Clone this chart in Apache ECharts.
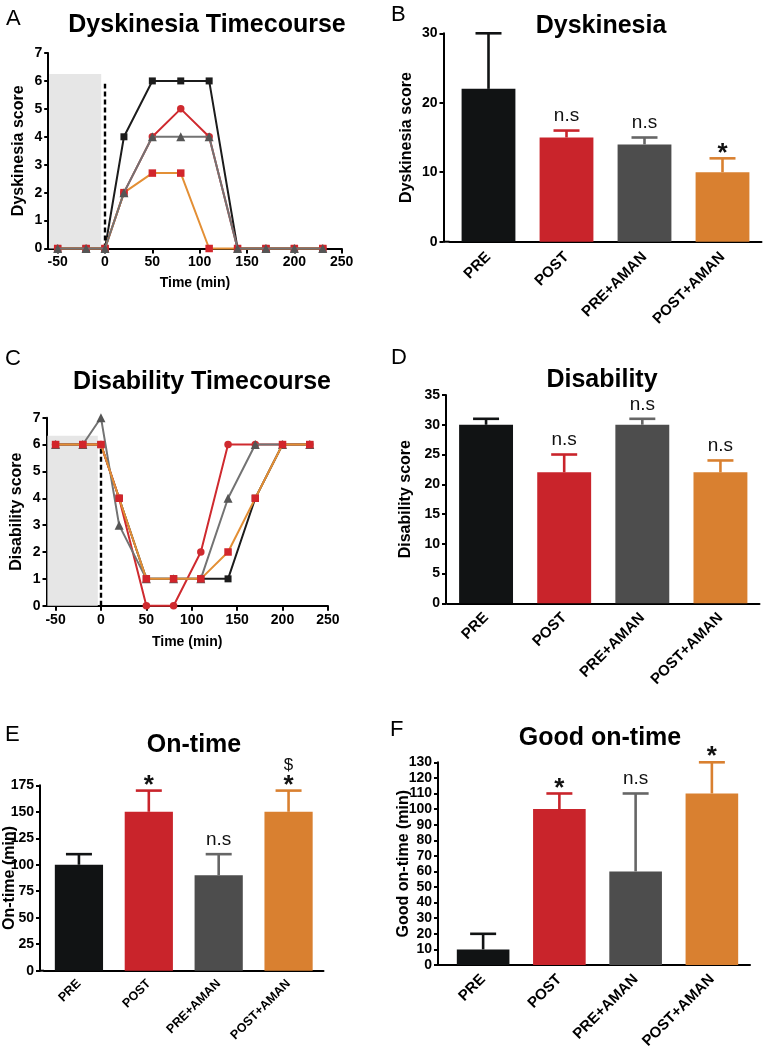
<!DOCTYPE html>
<html><head><meta charset="utf-8">
<script src="https://cdn.jsdelivr.net/npm/echarts@6/dist/echarts.min.js"></script>
<style>html,body{margin:0;padding:0;background:#fff}#c{width:765px;height:1052px}</style>
</head><body><div id="c"></div>
<script>
// ---------- DATA ----------
const timePoints = [-50, -20, 0, 20, 50, 80, 110, 140, 170, 200, 230];
const timeTicks = [-50, 0, 50, 100, 150, 200, 250];

const dyskBlack  = [0, 0, 0, 4, 6, 6, 6, 0, 0, 0, 0];
const dyskRed    = [0, 0, 0, 2, 4, 5, 4, 0, 0, 0, 0];
const dyskOrange = [0, 0, 0, 2, 2.7, 2.7, 0, 0, 0, 0, 0];
const dyskGray   = [0, 0, 0, 2, 4, 4, 4, 0, 0, 0, 0];

const disBlack  = [6, 6, 6, 4, 1, 1, 1, 1, 4, 6, 6];
const disRed    = [6, 6, 6, 4, 0, 0, 2, 6, 6, 6, 6];
const disOrange = [6, 6, 6, 4, 1, 1, 1, 2, 4, 6, 6];
const disGray   = [6, 6, 7, 3, 1, 1, 1, 4, 6, 6, 6];

const groups = ['PRE', 'POST', 'PRE+AMAN', 'POST+AMAN'];

const dyskMean = [22, 15, 14, 10];
const dyskErr  = [8, 1, 1, 2];
const dyskSig  = [[], ['n.s'], ['n.s'], ['*']];

const disMean = [30, 22, 30, 22];
const disErr  = [1, 3, 1, 2];
const disSig  = [[], ['n.s'], ['n.s'], ['n.s']];

const onMean = [100, 150, 90, 150];
const onErr  = [10, 20, 20, 20];
const onSig  = [[], ['*'], ['n.s'], ['*', '$']];

const goodMean = [10, 100, 60, 110];
const goodErr  = [10, 10, 50, 20];
const goodSig  = [[], ['*'], ['n.s'], ['*']];

// ---------- STYLE ----------
const FONT = '"Liberation Sans", Arial, Helvetica, sans-serif';
const barColors = ['#111314', '#c9242b', '#4d4d4d', '#d98030'];
const errColors = ['#111314', '#c9242b', '#666666', '#d98030'];

const grids = [
  {left: 48.2, top: 53,    width: 293.5, height: 195.5, off: 0},   // A
  {left: 449.5, top: 33.3, width: 312,   height: 208.4, off: 6},   // B
  {left: 46.5, top: 417.7, width: 281.4, height: 188,   off: 0},   // C
  {left: 447,  top: 395,   width: 312.5, height: 208.3, off: 1},   // D
  {left: 44,   top: 785.3, width: 279.5, height: 185.4, off: 4},   // E
  {left: 445,  top: 762.3, width: 305,   height: 202.7, off: 7}    // F
];

const axisLineStyle = {color: '#000', width: 2};
const tickLabel = {color: '#000', fontWeight: 'bold', fontSize: 14, fontFamily: FONT};
const nameStyle = {color: '#000', fontWeight: 'bold', fontSize: 16, fontFamily: FONT};

function timeXAxis(gi, gap) {
  return {
    type: 'value', gridIndex: gi, min: -60, max: 250,
    axisLine: {show: true, onZero: false, lineStyle: axisLineStyle},
    axisTick: {show: true, customValues: timeTicks, length: 5, lineStyle: {color: '#000', width: 2}},
    axisLabel: Object.assign({customValues: timeTicks, margin: 7}, tickLabel),
    splitLine: {show: false},
    name: 'Time (min)', nameLocation: 'middle', nameGap: gap, nameMoveOverlap: false,
    nameTextStyle: Object.assign({}, nameStyle, {fontSize: 14})
  };
}
function valYAxis(gi, max, interval, name, gap, off) {
  return {
    type: 'value', gridIndex: gi, min: 0, max: max, interval: interval, offset: off || 0,
    axisLine: {show: true, onZero: false, lineStyle: axisLineStyle},
    axisTick: {show: true, length: 4, lineStyle: {color: '#000', width: 2}},
    axisLabel: Object.assign({margin: 6}, tickLabel),
    splitLine: {show: false},
    name: name, nameLocation: 'middle', nameGap: gap, nameMoveOverlap: false,
    nameTextStyle: nameStyle
  };
}
function catXAxis(gi, fs, margin) {
  return {
    type: 'category', gridIndex: gi, data: groups,
    axisLine: {show: true, lineStyle: axisLineStyle},
    axisTick: {show: false},
    axisLabel: Object.assign({}, tickLabel, {rotate: 45, interval: 0, margin: margin, fontSize: fs}),
    splitLine: {show: false}
  };
}

function lineSeries(gi, vals, lineColor, symbol, symColor, size, z, extra) {
  return Object.assign({
    type: 'line', xAxisIndex: gi, yAxisIndex: gi,
    data: timePoints.map((t, i) => [t, vals[i]]),
    symbol: symbol, symbolSize: size, showSymbol: true, clip: false,
    lineStyle: {color: lineColor, width: 2},
    itemStyle: {color: symColor, borderWidth: 0},
    emphasis: {disabled: true}, z: z, silent: true
  }, extra || {});
}
function shading(topY, rightX, dashTop) {
  return {
    markArea: {silent: true, itemStyle: {color: '#e6e6e6'},
      data: [[{coord: [-59, 0]}, {coord: [rightX, topY]}]]},
    markLine: {silent: true, symbol: ['none', 'none'], label: {show: false},
      lineStyle: {type: [5, 3], color: '#000', width: 2.4},
      data: [[{coord: [0, 0]}, {coord: [0, dashTop]}]]}
  };
}

function barSeries(gi, means) {
  return {
    type: 'bar', xAxisIndex: gi, yAxisIndex: gi, data: means, barWidth: '69%',
    itemStyle: {color: p => barColors[p.dataIndex]}, silent: true, z: 2
  };
}
const sigStyle = {
  'n.s': {font: '19px ' + FONT, dy: 14.5},
  '*':   {font: 'bold 26px ' + FONT, dy: 5},
  '$':   {font: '17px ' + FONT, dy: 25}
};
function errSeries(gi, means, errs, sig) {
  return {
    type: 'custom', xAxisIndex: gi, yAxisIndex: gi, z: 3, silent: true,
    data: means.map((m, i) => [i, m + errs[i]]),
    renderItem: (params, api) => {
      const i = params.dataIndex;
      const base = api.coord([i, means[i]]);
      const top = api.coord([i, means[i] + errs[i]]);
      const c = errColors[i], hw = 13;
      const children = [
        {type: 'line', shape: {x1: base[0], y1: base[1], x2: top[0], y2: top[1]}, style: {stroke: c, lineWidth: 2.6}},
        {type: 'line', shape: {x1: top[0] - hw, y1: top[1], x2: top[0] + hw, y2: top[1]}, style: {stroke: c, lineWidth: 2.6}}
      ];
      sig[i].forEach(s => {
        const st = sigStyle[s];
        children.push({type: 'text', x: top[0], y: top[1] - st.dy,
          style: {text: s, font: st.font, fill: '#111', align: 'center', verticalAlign: 'middle'}});
      });
      return {type: 'group', children: children};
    }
  };
}

// ---------- TEXT (titles / panel letters) ----------
const titles = [
  {t: 'Dyskinesia Timecourse', x: 207, y: 25.5},
  {t: 'Dyskinesia', x: 601, y: 26.5},
  {t: 'Disability Timecourse', x: 202, y: 382.5},
  {t: 'Disability', x: 602, y: 380},
  {t: 'On-time', x: 194, y: 745.5},
  {t: 'Good on-time', x: 600, y: 738.5}
];
const letters = [
  {t: 'A', x: 6, y: 18.5}, {t: 'B', x: 391, y: 14.5},
  {t: 'C', x: 5, y: 358.5}, {t: 'D', x: 391, y: 357.5},
  {t: 'E', x: 5, y: 735}, {t: 'F', x: 390, y: 729.5}
];
const graphics = [];
titles.forEach(o => graphics.push({type: 'text', x: o.x, y: o.y, silent: true,
  style: {text: o.t, font: 'bold 25px ' + FONT, fill: '#000', align: 'center', verticalAlign: 'middle'}}));
letters.forEach(o => graphics.push({type: 'text', x: o.x, y: o.y, silent: true,
  style: {text: o.t, font: '22px ' + FONT, fill: '#000', align: 'left', verticalAlign: 'middle'}}));
// bridge x-axis line to the offset y-axis (bar panels)
grids.forEach(g => {
  if (g.off > 0) {
    const y = g.top + g.height;
    graphics.push({type: 'line', silent: true,
      shape: {x1: g.left - g.off, y1: y, x2: g.left, y2: y}, style: {stroke: '#000', lineWidth: 2}});
  }
});

const option = {
  animation: false,
  backgroundColor: '#fff',
  grid: grids.map(g => ({left: g.left, top: g.top, width: g.width, height: g.height,
    containLabel: false, outerBoundsMode: 'none'})),
  xAxis: [
    timeXAxis(0, 28), catXAxis(1, 15, 13), timeXAxis(2, 29), catXAxis(3, 15, 12),
    catXAxis(4, 12.5, 11), catXAxis(5, 15, 12)
  ],
  yAxis: [
    valYAxis(0, 7, 1, 'Dyskinesia score', 22, 0),
    valYAxis(1, 30, 10, 'Dyskinesia score', 29, grids[1].off),
    valYAxis(2, 7, 1, 'Disability score', 22, 0),
    valYAxis(3, 35, 5, 'Disability score', 32, grids[3].off),
    valYAxis(4, 175, 25, 'On-time (min)', 22, grids[4].off),
    valYAxis(5, 130, 10, 'Good on-time (min)', 26, grids[5].off)
  ],
  series: [
    // A
    lineSeries(0, dyskBlack, '#1c1c1c', 'rect', '#1c1c1c', 7, 3, shading(6.25, -4, 5.9)),
    lineSeries(0, dyskRed, '#cf2a2f', 'circle', '#cf2a2f', 7.5, 4),
    lineSeries(0, dyskOrange, '#e38f35', 'rect', '#d2252b', 7.5, 5),
    lineSeries(0, dyskGray, '#737373', 'triangle', '#555555', 9, 6),
    // C
    lineSeries(2, disBlack, '#1c1c1c', 'rect', '#1c1c1c', 7, 3, shading(6.33, -3.5, 6.1)),
    lineSeries(2, disRed, '#cf2a2f', 'circle', '#cf2a2f', 7.5, 4),
    lineSeries(2, disGray, '#737373', 'triangle', '#555555', 9, 5),
    lineSeries(2, disOrange, '#e38f35', 'rect', '#d2252b', 7.5, 6),
    // B, D, E, F
    barSeries(1, dyskMean), errSeries(1, dyskMean, dyskErr, dyskSig),
    barSeries(3, disMean), errSeries(3, disMean, disErr, disSig),
    barSeries(4, onMean), errSeries(4, onMean, onErr, onSig),
    barSeries(5, goodMean), errSeries(5, goodMean, goodErr, goodSig)
  ],
  graphic: graphics
};

const chart = echarts.init(document.getElementById('c'), null, {renderer: 'canvas', width: 765, height: 1052});
chart.setOption(option);
</script>
</body></html>
